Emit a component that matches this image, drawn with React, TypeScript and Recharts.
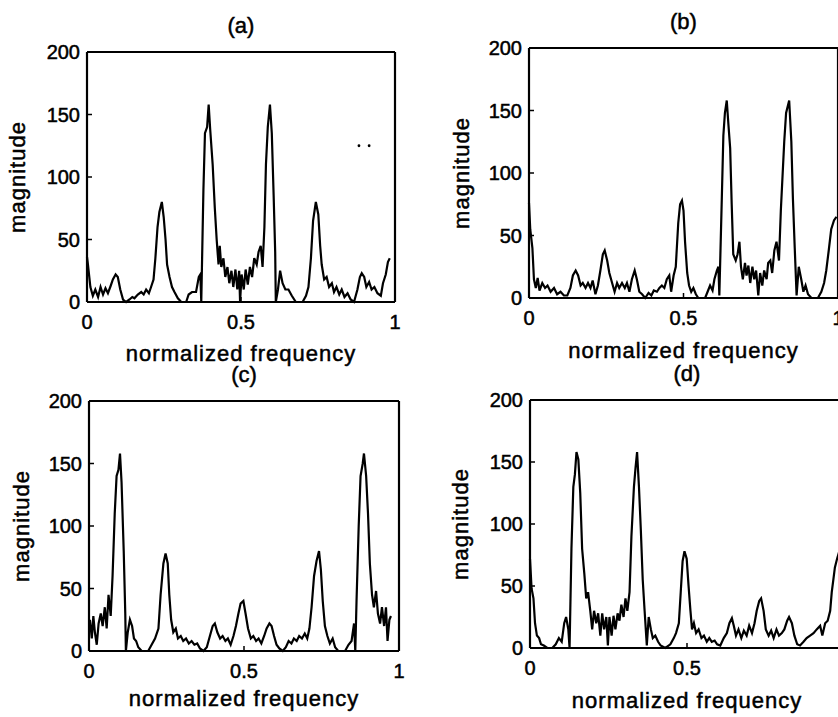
import { ComposedChart, Label, Line, Scatter, XAxis, YAxis } from "recharts";

const FONT = '"Liberation Sans", Arial, Helvetica, sans-serif';

const xTicks = [0, 0.5, 1];
const yTicks = [0, 50, 100, 150, 200];
const titles = ["(a)", "(b)", "(c)", "(d)"];
const xLabel = "normalized frequency";
const yLabel = "magnitude";

// (a)
const freqA = [
  0, 0.003, 0.011, 0.019, 0.027, 0.036, 0.044, 0.052, 0.06, 0.068,
  0.077, 0.084, 0.093, 0.1, 0.108, 0.117, 0.127, 0.138, 0.147, 0.154,
  0.165, 0.176, 0.184, 0.192, 0.201, 0.208, 0.216, 0.222, 0.229, 0.235,
  0.243, 0.249, 0.255, 0.26, 0.268, 0.276, 0.284, 0.295, 0.306, 0.322,
  0.33, 0.341, 0.354, 0.363, 0.368, 0.371, 0.378, 0.383, 0.39, 0.395,
  0.4, 0.408, 0.415, 0.421, 0.427, 0.431, 0.436, 0.443, 0.449, 0.456,
  0.462, 0.469, 0.475, 0.482, 0.488, 0.494, 0.497, 0.502, 0.509, 0.515,
  0.522, 0.529, 0.536, 0.543, 0.551, 0.557, 0.564, 0.57, 0.576, 0.581,
  0.587, 0.594, 0.6, 0.606, 0.611, 0.613, 0.62, 0.627, 0.635, 0.644,
  0.654, 0.665, 0.678, 0.7, 0.711, 0.719, 0.727, 0.734, 0.743, 0.751,
  0.757, 0.762, 0.77, 0.778, 0.786, 0.795, 0.802, 0.81, 0.819, 0.827,
  0.836, 0.846, 0.856, 0.867, 0.878, 0.886, 0.892, 0.9, 0.907, 0.916,
  0.924, 0.933, 0.943, 0.954, 0.961, 0.97, 0.977, 0.983,
];
const magA = [
  36, 30, 12, 5, 10, 4, 12, 6, 11, 7,
  13, 18, 22, 20, 10, 2, 0, 2, 4, 3,
  6, 8, 6, 10, 7, 12, 18, 35, 60, 72,
  80, 68, 50, 30, 20, 12, 8, 3, 0, 0,
  6, 8, 8, 20, 22, 0, 90, 135, 140, 158,
  138, 110, 75, 50, 30, 45, 28, 35, 20, 28,
  15, 25, 12, 26, 10, 25, 0, 22, 10, 26,
  14, 28, 20, 35, 30, 40, 45, 28, 60, 110,
  140, 158, 135, 85, 40, 0, 10, 25, 15, 10,
  10, 5, 0, 0, 5, 12, 35, 65, 80, 70,
  45, 30, 18, 20, 12, 15, 8, 12, 6, 10,
  4, 7, 2, 0, 10, 20, 23, 20, 12, 16,
  10, 12, 7, 5, 15, 22, 32, 35,
];
const strayFreqA = [0.883, 0.916];
const strayMagA = [125, 125];

// (b)
const freqB = [
  0, 0.004, 0.011, 0.016, 0.022, 0.028, 0.034, 0.043, 0.052, 0.06,
  0.07, 0.081, 0.091, 0.102, 0.113, 0.124, 0.134, 0.142, 0.151, 0.159,
  0.167, 0.174, 0.183, 0.191, 0.199, 0.206, 0.215, 0.223, 0.231, 0.239,
  0.245, 0.253, 0.26, 0.269, 0.277, 0.285, 0.292, 0.301, 0.31, 0.317,
  0.325, 0.333, 0.342, 0.349, 0.357, 0.366, 0.376, 0.387, 0.396, 0.404,
  0.414, 0.422, 0.43, 0.438, 0.446, 0.454, 0.46, 0.468, 0.475, 0.483,
  0.489, 0.495, 0.5, 0.505, 0.512, 0.518, 0.525, 0.532, 0.54, 0.548,
  0.57, 0.578, 0.586, 0.594, 0.6, 0.608, 0.613, 0.616, 0.624, 0.629,
  0.634, 0.64, 0.645, 0.651, 0.656, 0.661, 0.669, 0.675, 0.681, 0.686,
  0.692, 0.699, 0.704, 0.71, 0.716, 0.723, 0.729, 0.735, 0.742, 0.748,
  0.755, 0.761, 0.769, 0.774, 0.781, 0.787, 0.794, 0.801, 0.809, 0.815,
  0.826, 0.832, 0.842, 0.849, 0.854, 0.86, 0.866, 0.873, 0.881, 0.888,
  0.895, 0.903, 0.914, 0.935, 0.946, 0.955, 0.962, 0.97, 0.978, 0.987,
  0.995,
];
const magB = [
  76, 55, 40, 15, 8, 16, 6, 12, 8, 10,
  5, 8, 3, 5, 2, 2, 8, 18, 22, 18,
  10, 12, 8, 12, 8, 14, 3, 10, 22, 35,
  38, 30, 20, 12, 5, 12, 8, 12, 8, 12,
  5, 15, 22, 15, 5, 3, 0, 4, 2, 6,
  5, 8, 10, 8, 15, 18, 5, 18, 25, 60,
  75, 78, 70, 45, 20, 10, 5, 8, 3, 0,
  0, 5, 10, 6, 15, 22, 25, 2, 80, 130,
  148, 158, 140, 120, 75, 35, 30, 35, 45, 25,
  15, 28, 18, 26, 12, 25, 15, 22, 2, 20,
  10, 22, 15, 28, 30, 20, 38, 45, 30, 70,
  125, 148, 158, 125, 80, 40, 2, 25, 15, 5,
  10, 3, 0, 0, 5, 12, 22, 38, 55, 62,
  65,
];

// (c)
const freqC = [
  0.003, 0.009, 0.014, 0.019, 0.025, 0.031, 0.038, 0.044, 0.051, 0.057,
  0.063, 0.07, 0.076, 0.083, 0.089, 0.095, 0.1, 0.105, 0.112, 0.117,
  0.119, 0.125, 0.132, 0.139, 0.145, 0.152, 0.159, 0.17, 0.191, 0.202,
  0.213, 0.224, 0.231, 0.24, 0.247, 0.254, 0.259, 0.265, 0.272, 0.28,
  0.287, 0.296, 0.304, 0.313, 0.322, 0.331, 0.34, 0.349, 0.358, 0.369,
  0.38, 0.39, 0.399, 0.406, 0.414, 0.423, 0.431, 0.44, 0.448, 0.457,
  0.466, 0.474, 0.482, 0.489, 0.498, 0.505, 0.513, 0.522, 0.53, 0.539,
  0.547, 0.556, 0.565, 0.573, 0.582, 0.589, 0.597, 0.605, 0.614, 0.625,
  0.635, 0.644, 0.653, 0.661, 0.67, 0.678, 0.687, 0.696, 0.704, 0.711,
  0.718, 0.726, 0.734, 0.742, 0.748, 0.754, 0.761, 0.769, 0.777, 0.786,
  0.794, 0.804, 0.826, 0.837, 0.847, 0.855, 0.859, 0.863, 0.87, 0.876,
  0.883, 0.887, 0.894, 0.9, 0.906, 0.913, 0.919, 0.926, 0.932, 0.939,
  0.945, 0.952, 0.958, 0.963, 0.969, 0.974,
];
const magC = [
  25, 10, 28, 15, 5, 22, 30, 20, 35, 18,
  45, 28, 60, 110, 140, 145, 158, 135, 80, 30,
  0, 15, 25, 20, 10, 8, 3, 0, 0, 5,
  10, 18, 45, 70, 78, 70, 45, 25, 15, 18,
  10, 12, 8, 10, 6, 8, 5, 6, 2, 0,
  3, 12, 20, 22, 15, 10, 12, 8, 10, 5,
  12, 20, 30, 38, 40, 30, 18, 10, 12, 8,
  10, 6, 12, 18, 22, 20, 12, 5, 2, 0,
  3, 8, 6, 10, 8, 12, 10, 14, 10, 18,
  35, 60, 72, 80, 65, 40, 20, 12, 6, 10,
  3, 0, 0, 5, 8, 22, 0, 40, 100, 140,
  150, 158, 140, 110, 70, 45, 35, 48, 30, 22,
  35, 20, 35, 8, 25, 28,
];

// (d)
const freqD = [
  0, 0.005, 0.011, 0.016, 0.022, 0.029, 0.035, 0.044, 0.055, 0.071,
  0.082, 0.092, 0.101, 0.109, 0.115, 0.122, 0.126, 0.132, 0.138, 0.143,
  0.148, 0.154, 0.16, 0.166, 0.173, 0.179, 0.185, 0.192, 0.198, 0.204,
  0.211, 0.217, 0.224, 0.23, 0.236, 0.243, 0.248, 0.253, 0.26, 0.266,
  0.272, 0.279, 0.285, 0.291, 0.298, 0.304, 0.31, 0.317, 0.323, 0.331,
  0.336, 0.341, 0.347, 0.353, 0.359, 0.365, 0.372, 0.378, 0.385, 0.391,
  0.399, 0.408, 0.416, 0.431, 0.447, 0.458, 0.465, 0.474, 0.48, 0.486,
  0.492, 0.499, 0.505, 0.511, 0.516, 0.522, 0.529, 0.537, 0.546, 0.554,
  0.563, 0.571, 0.579, 0.588, 0.596, 0.606, 0.617, 0.627, 0.635, 0.643,
  0.649, 0.656, 0.664, 0.673, 0.681, 0.69, 0.698, 0.707, 0.715, 0.722,
  0.73, 0.736, 0.744, 0.751, 0.76, 0.768, 0.776, 0.785, 0.793, 0.802,
  0.81, 0.819, 0.825, 0.834, 0.842, 0.851, 0.86, 0.871, 0.881, 0.892,
  0.903, 0.913, 0.924, 0.931, 0.94, 0.948, 0.956, 0.961, 0.966, 0.971,
  0.978, 0.985, 0.995,
];
const magD = [
  72, 48, 40, 20, 10, 8, 3, 2, 0, 0,
  3, 8, 5, 20, 25, 15, 0, 80, 130, 140,
  158, 152, 125, 80, 60, 40, 45, 30, 15, 30,
  20, 28, 10, 28, 15, 25, 2, 25, 10, 26,
  15, 28, 22, 35, 25, 40, 30, 45, 90, 130,
  145, 158, 130, 95, 55, 30, 2, 25, 15, 8,
  10, 5, 2, 0, 3, 8, 12, 20, 45, 70,
  78, 72, 50, 30, 15, 20, 12, 15, 8, 10,
  5, 8, 5, 6, 3, 2, 8, 12, 20, 24,
  18, 10, 15, 8, 14, 10, 18, 12, 20, 30,
  38, 40, 30, 15, 10, 14, 8, 15, 10, 12,
  15, 22, 25, 20, 10, 3, 2, 5, 8, 10,
  12, 15, 18, 10, 20, 22, 30, 45, 55, 65,
  72, 78, 75,
];

// scanned print looks heavy, so text gets a thin outline
const textStyle = { fill: "#000", fontFamily: FONT, stroke: "#000", strokeWidth: 0.5 };

interface PanelProps {
  box: [number, number, number, number];
  title: string;
  freq: number[];
  mag: number[];
  strayFreq?: number[];
  strayMag?: number[];
  xlabDrop: number;
  ylabOff: number;
}

function Panel({ box, title, freq, mag, strayFreq, strayMag, xlabDrop, ylabOff }: PanelProps) {
  const [left, top, w, h] = box;
  const rows = freq.map((f, i) => ({ f, m: mag[i] }));
  const stray = (strayFreq || []).map((f, i) => ({ f, m: (strayMag || [])[i] }));
  const axisLine = { stroke: "#000", strokeWidth: 2.2 };
  const tickLine = { stroke: "#000", strokeWidth: 1.5 };
  const tick = { ...textStyle, fontSize: 20 };

  return (
    <div style={{ position: "absolute", left: left - 80, top: top - 40 }}>
      <ComposedChart
        width={80 + w + 10}
        height={40 + h + 70}
        data={rows}
        margin={{ top: 0, right: 0, bottom: 0, left: 0 }}
      >
        <XAxis
          xAxisId="b"
          dataKey="f"
          type="number"
          domain={[0, 1]}
          ticks={xTicks}
          interval={0}
          height={70}
          tickSize={-5}
          tickMargin={18}
          axisLine={axisLine}
          tickLine={tickLine}
          tick={tick}
        >
          <Label
            content={(p: any) => (
              <text
                x={p.viewBox.x + p.viewBox.width / 2}
                y={p.viewBox.y + xlabDrop}
                textAnchor="middle"
                fontSize={22}
                letterSpacing={1}
                {...textStyle}
              >
                {xLabel}
              </text>
            )}
          />
        </XAxis>
        <XAxis
          xAxisId="t"
          orientation="top"
          dataKey="f"
          type="number"
          domain={[0, 1]}
          ticks={xTicks}
          interval={0}
          height={40}
          tickSize={-5}
          axisLine={axisLine}
          tickLine={tickLine}
          tick={false}
        >
          <Label
            content={(p: any) => (
              <text
                x={p.viewBox.x + p.viewBox.width / 2}
                y={p.viewBox.y + p.viewBox.height - 19}
                textAnchor="middle"
                fontSize={22}
                {...textStyle}
              >
                {title}
              </text>
            )}
          />
        </XAxis>
        <YAxis
          yAxisId="l"
          type="number"
          domain={[0, 200]}
          ticks={yTicks}
          interval={0}
          width={80}
          tickSize={-5}
          tickMargin={12}
          axisLine={axisLine}
          tickLine={tickLine}
          tick={tick}
        >
          <Label
            content={(p: any) => {
              const cx = p.viewBox.x + p.viewBox.width - ylabOff;
              const cy = p.viewBox.y + p.viewBox.height / 2;
              return (
                <text
                  x={cx}
                  y={cy}
                  transform={`rotate(-90 ${cx} ${cy})`}
                  textAnchor="middle"
                  dominantBaseline="central"
                  fontSize={22}
                  letterSpacing={1}
                  {...textStyle}
                >
                  {yLabel}
                </text>
              );
            }}
          />
        </YAxis>
        <YAxis
          yAxisId="r"
          orientation="right"
          type="number"
          domain={[0, 200]}
          ticks={yTicks}
          interval={0}
          width={10}
          tickSize={-5}
          axisLine={axisLine}
          tickLine={tickLine}
          tick={false}
        />
        <Line
          xAxisId="b"
          yAxisId="l"
          type="linear"
          dataKey="m"
          stroke="#000"
          strokeWidth={2.2}
          dot={false}
          isAnimationActive={false}
        />
        {stray.length > 0 && (
          <Scatter
            xAxisId="b"
            yAxisId="l"
            data={stray}
            dataKey="m"
            isAnimationActive={false}
            shape={(p: any) => <circle cx={p.cx} cy={p.cy} r={1.4} fill="#000" />}
          />
        )}
      </ComposedChart>
    </div>
  );
}

export default function App() {
  return (
    <div
      style={{
        position: "fixed",
        left: 0,
        top: 0,
        width: 838,
        height: 717,
        overflow: "hidden",
        background: "#fff",
      }}
    >
      <Panel box={[87, 52, 308, 250]} title={titles[0]} freq={freqA} mag={magA}
        strayFreq={strayFreqA} strayMag={strayMagA} xlabDrop={59} ylabOff={70} />
      <Panel box={[529, 48, 309, 250]} title={titles[1]} freq={freqB} mag={magB}
        xlabDrop={60} ylabOff={68} />
      <Panel box={[89, 401, 310, 250]} title={titles[2]} freq={freqC} mag={magC}
        xlabDrop={55} ylabOff={68} />
      <Panel box={[530, 400, 314, 248]} title={titles[3]} freq={freqD} mag={magD}
        xlabDrop={60} ylabOff={70} />
    </div>
  );
}
